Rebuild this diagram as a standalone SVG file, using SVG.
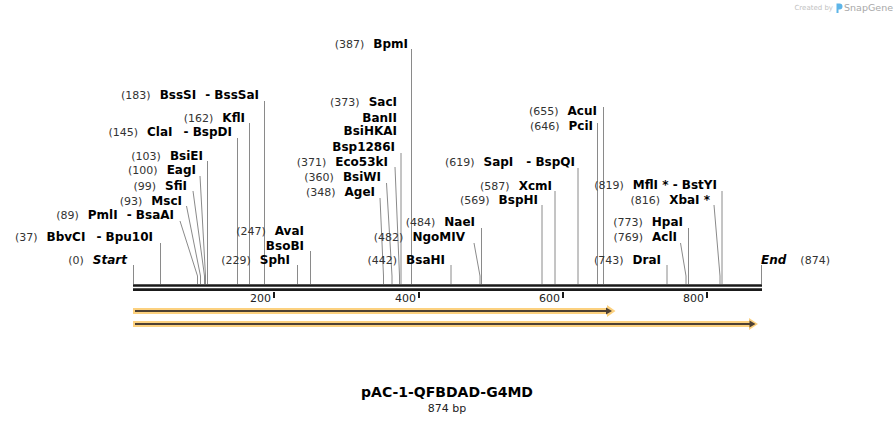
<svg xmlns="http://www.w3.org/2000/svg" width="895" height="423" viewBox="0 0 895 423">
<style>
text{font-family:"DejaVu Sans","Liberation Sans",sans-serif}
.n{font-size:11px;fill:#333}
.e{font-size:12px;font-weight:bold;fill:#000}
.i{font-size:12px;font-weight:bold;font-style:italic;fill:#000}
.ln{stroke:#8a8a8a;stroke-width:1;fill:none}
.bb{stroke:#1a1a1a;stroke-width:2.6}
.tk{stroke:#1a1a1a;stroke-width:2}
.tl{font-size:11px;fill:#222}
.halo{fill:#fcd17f}
.shaft{stroke:#4d4033;stroke-width:2}
.head{fill:#4d4033}
</style>

<g id="watermark">
<text x="833" y="10" text-anchor="end" style="font-size:7px;fill:#c2c2c2">Created by</text>
<path d="M836.5 3.5h3a3 3 0 0 1 0 6h-1v3.5h-2z" fill="#5eb5e8"/>
<text x="893" y="11" text-anchor="end" style="font-size:9.5px;fill:#a8a8a8">SnapGene</text>
</g>

<g id="connectors">
<path class="ln" d="M133.5 265V284"/>
<path class="ln" d="M160.5 243V284"/>
<path class="ln" d="M180 221L197.5 276V284"/>
<path class="ln" d="M186.5 206L200.5 276V284"/>
<path class="ln" d="M193 191L204.5 276V284"/>
<path class="ln" d="M200 176L205.5 276V284"/>
<path class="ln" d="M207.5 161V284"/>
<path class="ln" d="M237.5 138V284"/>
<path class="ln" d="M249.5 123V284"/>
<path class="ln" d="M264.5 101V284"/>
<path class="ln" d="M297.5 265V284"/>
<path class="ln" d="M310.5 251V284"/>
<path class="ln" d="M380 198L383.5 276V284"/>
<path class="ln" d="M386.5 183L392 276V284"/>
<path class="ln" d="M395 167L399.5 276V284"/>
<path class="ln" d="M401 153V284"/>
<path class="ln" d="M411.5 49V284"/>
<path class="ln" d="M451 265V284"/>
<path class="ln" d="M474 243L480 276V284"/>
<path class="ln" d="M481.5 228V284"/>
<path class="ln" d="M542 205V284"/>
<path class="ln" d="M555 191V284"/>
<path class="ln" d="M578 168V284"/>
<path class="ln" d="M597.5 123V284"/>
<path class="ln" d="M603.5 107V284"/>
<path class="ln" d="M667 265V284"/>
<path class="ln" d="M680.5 243L686 276V284"/>
<path class="ln" d="M688.5 228V284"/>
<path class="ln" d="M714 205L720 276V284"/>
<path class="ln" d="M722 191V284"/>
<path class="ln" d="M761.5 265V284"/>
</g>

<g id="backbone">
<line class="bb" x1="133" y1="285.5" x2="762" y2="285.5"/>
<line class="bb" x1="133" y1="289.6" x2="762" y2="289.6"/>
<line class="tk" x1="274" y1="292" x2="274" y2="298"/>
<line class="tk" x1="419" y1="292" x2="419" y2="298"/>
<line class="tk" x1="563" y1="292" x2="563" y2="298"/>
<line class="tk" x1="707" y1="292" x2="707" y2="298"/>
<text class="tl" x="271" y="301.5" text-anchor="end">200</text>
<text class="tl" x="416" y="301.5" text-anchor="end">400</text>
<text class="tl" x="560" y="301.5" text-anchor="end">600</text>
<text class="tl" x="704" y="301.5" text-anchor="end">800</text>
</g>

<g id="feature1">
<polygon class="halo" points="133,308 607,308 607,305 615.5,311 607,317 607,314 133,314"/>
<line class="shaft" x1="135" y1="311" x2="607" y2="311"/>
<polygon class="head" points="606,307.5 612,311 606,314.5"/>
</g>
<g id="feature2">
<polygon class="halo" points="133,321 749,321 749,318 758,324 749,330 749,327 133,327"/>
<line class="shaft" x1="135" y1="324" x2="750" y2="324"/>
<polygon class="head" points="749.5,320.5 755.5,324 749.5,327.5"/>
</g>

<g id="site-start"><text x="127" y="264" text-anchor="end"><tspan class="n">(0)</tspan><tspan class="i" dx="9">Start</tspan></text></g>
<g id="site-37"><text x="153" y="241" text-anchor="end"><tspan class="n">(37)</tspan><tspan class="e" dx="9">BbvCI</tspan><tspan class="e" dx="11">- Bpu10I</tspan></text></g>
<g id="site-89"><text x="174" y="219" text-anchor="end"><tspan class="n">(89)</tspan><tspan class="e" dx="9">PmlI</tspan><tspan class="e" dx="9">- BsaAI</tspan></text></g>
<g id="site-93"><text x="182" y="204.5" text-anchor="end"><tspan class="n">(93)</tspan><tspan class="e" dx="9">MscI</tspan></text></g>
<g id="site-99"><text x="187" y="189.5" text-anchor="end"><tspan class="n">(99)</tspan><tspan class="e" dx="9">SfiI</tspan></text></g>
<g id="site-100"><text x="196" y="174" text-anchor="end"><tspan class="n">(100)</tspan><tspan class="e" dx="9">EagI</tspan></text></g>
<g id="site-103"><text x="203" y="159.5" text-anchor="end"><tspan class="n">(103)</tspan><tspan class="e" dx="9">BsiEI</tspan></text></g>
<g id="site-145"><text x="232" y="136" text-anchor="end"><tspan class="n">(145)</tspan><tspan class="e" dx="9">ClaI</tspan><tspan class="e" dx="11">- BspDI</tspan></text></g>
<g id="site-162"><text x="245" y="121.5" text-anchor="end"><tspan class="n">(162)</tspan><tspan class="e" dx="9">KflI</tspan></text></g>
<g id="site-183"><text x="259" y="99" text-anchor="end"><tspan class="n">(183)</tspan><tspan class="e" dx="9">BssSI</tspan><tspan class="e" dx="9">- BssSaI</tspan></text></g>
<g id="site-229"><text x="290" y="264" text-anchor="end"><tspan class="n">(229)</tspan><tspan class="e" dx="9">SphI</tspan></text></g>
<g id="site-247"><text x="304" y="234.5" text-anchor="end"><tspan class="n">(247)</tspan><tspan class="e" dx="9">AvaI</tspan></text><text class="e" x="304" y="249.5" text-anchor="end">BsoBI</text></g>
<g id="site-348"><text x="375" y="196" text-anchor="end"><tspan class="n">(348)</tspan><tspan class="e" dx="9">AgeI</tspan></text></g>
<g id="site-360"><text x="381" y="181" text-anchor="end"><tspan class="n">(360)</tspan><tspan class="e" dx="9">BsiWI</tspan></text></g>
<g id="site-371"><text x="388" y="165.5" text-anchor="end"><tspan class="n">(371)</tspan><tspan class="e" dx="9">Eco53kI</tspan></text></g>
<g id="site-373"><text x="397" y="106" text-anchor="end"><tspan class="n">(373)</tspan><tspan class="e" dx="9">SacI</tspan></text><text class="e" x="397" y="121.5" text-anchor="end">BanII</text><text class="e" x="397" y="135" text-anchor="end">BsiHKAI</text><text class="e" x="395" y="150.5" text-anchor="end">Bsp1286I</text></g>
<g id="site-387"><text x="408" y="47.5" text-anchor="end"><tspan class="n">(387)</tspan><tspan class="e" dx="9">BpmI</tspan></text></g>
<g id="site-442"><text x="445" y="264" text-anchor="end"><tspan class="n">(442)</tspan><tspan class="e" dx="9">BsaHI</tspan></text></g>
<g id="site-482"><text x="465" y="241" text-anchor="end"><tspan class="n">(482)</tspan><tspan class="e" dx="9">NgoMIV</tspan></text></g>
<g id="site-484"><text x="475" y="226" text-anchor="end"><tspan class="n">(484)</tspan><tspan class="e" dx="9">NaeI</tspan></text></g>
<g id="site-569"><text x="538" y="204" text-anchor="end"><tspan class="n">(569)</tspan><tspan class="e" dx="9">BspHI</tspan></text></g>
<g id="site-587"><text x="552" y="189.5" text-anchor="end"><tspan class="n">(587)</tspan><tspan class="e" dx="9">XcmI</tspan></text></g>
<g id="site-619"><text x="575" y="166" text-anchor="end"><tspan class="n">(619)</tspan><tspan class="e" dx="9">SapI</tspan><tspan class="e" dx="13">- BspQI</tspan></text></g>
<g id="site-646"><text x="593" y="129.5" text-anchor="end"><tspan class="n">(646)</tspan><tspan class="e" dx="9">PciI</tspan></text></g>
<g id="site-655"><text x="597" y="115" text-anchor="end"><tspan class="n">(655)</tspan><tspan class="e" dx="9">AcuI</tspan></text></g>
<g id="site-743"><text x="661" y="264" text-anchor="end"><tspan class="n">(743)</tspan><tspan class="e" dx="9">DraI</tspan></text></g>
<g id="site-769"><text x="677" y="241" text-anchor="end"><tspan class="n">(769)</tspan><tspan class="e" dx="9">AclI</tspan></text></g>
<g id="site-773"><text x="683" y="226" text-anchor="end"><tspan class="n">(773)</tspan><tspan class="e" dx="9">HpaI</tspan></text></g>
<g id="site-816"><text x="710" y="204" text-anchor="end"><tspan class="n">(816)</tspan><tspan class="e" dx="9">XbaI *</tspan></text></g>
<g id="site-819"><text x="717" y="189" text-anchor="end"><tspan class="n">(819)</tspan><tspan class="e" dx="9">MflI * - BstYI</tspan></text></g>
<g id="site-end"><text x="761" y="264"><tspan class="i">End</tspan><tspan class="n" dx="14">(874)</tspan></text></g>

<g id="title">
<text x="447" y="397" text-anchor="middle" style="font-size:14px;font-weight:bold;fill:#000">pAC-1-QFBDAD-G4MD</text>
<text x="447" y="412" text-anchor="middle" style="font-size:11px;fill:#222">874 bp</text>
</g>
</svg>
